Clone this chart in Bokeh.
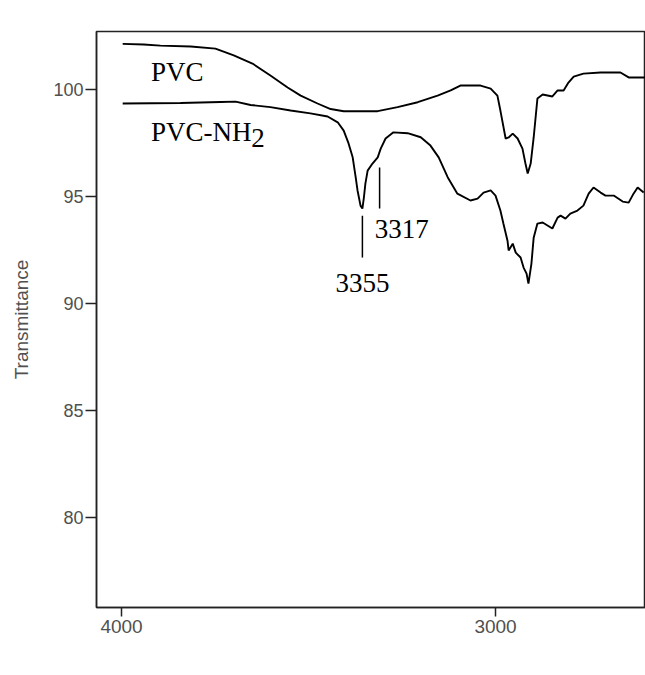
from bokeh.plotting import figure
from bokeh.models import Range1d, FixedTicker, Label
from bokeh.embed import file_html
from bokeh.resources import INLINE

# ---- data ----
pvc_wn = [3997, 3941, 3896, 3815, 3749, 3700, 3650, 3602, 3556, 3521, 3476, 3441,
          3406, 3315, 3262, 3208, 3155, 3120, 3094, 3040, 3013, 2995, 2987, 2973,
          2965, 2954, 2941, 2928, 2920, 2914, 2906, 2898, 2888, 2874, 2848, 2834,
          2818, 2805, 2791, 2765, 2719, 2666, 2644, 2599]
pvc_t = [102.15, 102.12, 102.07, 102.03, 101.93, 101.61, 101.23, 100.67, 100.11, 99.73,
         99.36, 99.10, 99.00, 99.00, 99.19, 99.42, 99.73, 99.97, 100.20, 100.20, 100.06,
         99.73, 99.03, 97.72, 97.77, 97.95, 97.72, 97.25, 96.55, 96.08, 96.55, 97.77,
         99.59, 99.78, 99.69, 99.97, 99.97, 100.34, 100.62, 100.76, 100.81, 100.81,
         100.58, 100.58]

nh2_wn = [3997, 3842, 3735, 3695, 3655, 3602, 3548, 3495, 3449, 3422, 3406, 3393,
          3382, 3374, 3369, 3361, 3356, 3352, 3348, 3342, 3329, 3315, 3307, 3294,
          3273, 3235, 3200, 3174, 3152, 3128, 3102, 3067, 3048, 3032, 3013, 3000,
          2987, 2979, 2968, 2965, 2954, 2946, 2933, 2925, 2917, 2912, 2904, 2898,
          2888, 2874, 2861, 2848, 2834, 2826, 2813, 2800, 2781, 2765, 2751, 2738,
          2719, 2706, 2684, 2660, 2644, 2631, 2620, 2604]
nh2_t = [99.36, 99.38, 99.43, 99.45, 99.29, 99.19, 99.03, 98.90, 98.75, 98.48, 98.09,
         97.49, 96.84, 95.91, 95.29, 94.58, 94.44, 94.96, 95.61, 96.22, 96.55, 96.84,
         97.25, 97.72, 98.01, 97.97, 97.78, 97.39, 96.84, 95.91, 95.14, 94.82, 94.91,
         95.19, 95.29, 95.05, 94.35, 93.74, 92.94, 92.48, 92.80, 92.38, 92.15, 91.68,
         91.40, 90.93, 91.87, 93.08, 93.74, 93.79, 93.65, 93.51, 94.02, 94.11, 93.97,
         94.21, 94.35, 94.58, 95.14, 95.43, 95.19, 95.05, 95.05, 94.77, 94.72, 95.14,
         95.43, 95.19]

x_ticks = [4000, 3000]
y_ticks = [80, 85, 90, 95, 100]
peak_labels = ["3355", "3317"]
peak_wn = [3356, 3310]

# ---- figure ----
p = figure(width=645, height=648, output_backend="svg", toolbar_location=None,
           x_range=Range1d(4067, 2599), y_range=Range1d(75.77, 102.73),
           min_border_left=96, min_border_right=0, min_border_top=31,
           min_border_bottom=41, background_fill_color="white",
           border_fill_color="white")

p.xgrid.visible = False
p.ygrid.visible = False
p.outline_line_color = "#222222"
p.outline_line_width = 1.5

for ax in (p.xaxis[0], p.yaxis[0]):
    ax.axis_line_color = "#222222"
    ax.axis_line_width = 1.5
    ax.major_tick_line_color = "#222222"
    ax.major_tick_line_width = 1.5
    ax.major_tick_in = 0
    ax.minor_tick_line_color = None
    ax.major_label_text_font = "Liberation Sans"
    ax.major_label_text_color = "#505050"

p.xaxis.ticker = FixedTicker(ticks=x_ticks)
p.xaxis.major_tick_out = 9
p.xaxis.major_label_standoff = 3
p.xaxis.major_label_text_font_size = "19px"

p.yaxis.ticker = FixedTicker(ticks=y_ticks)
p.yaxis.major_tick_out = 11
p.yaxis.major_label_standoff = 2
p.yaxis.major_label_text_font_size = "18px"
p.yaxis.axis_label = "Transmittance"
p.yaxis.axis_label_text_font = "Liberation Sans"
p.yaxis.axis_label_text_font_style = "normal"
p.yaxis.axis_label_text_font_size = "19px"
p.yaxis.axis_label_text_color = "#505050"
p.yaxis.axis_label_standoff = 18

p.line(pvc_wn, pvc_t, line_color="black", line_width=1.9)
p.line(nh2_wn, nh2_t, line_color="black", line_width=1.9)

# peak marker lines
p.segment(x0=[peak_wn[0], peak_wn[1]], y0=[92.15, 94.44],
          x1=[peak_wn[0], peak_wn[1]], y1=[94.11, 96.36],
          line_color="black", line_width=1.5)

serif = "Liberation Serif"
def lab(x, y, t, align="left"):
    p.add_layout(Label(x=x, y=y, text=t, text_font=serif, text_font_size="27px",
                       text_color="black", text_align=align,
                       text_baseline="alphabetic"))

lab(3921, 100.85, "PVC")
lab(3921, 98.03, "PVC-NH")
lab(3653, 97.73, "2")
lab(peak_wn[0], 90.97, peak_labels[0], "center")
lab(3323, 93.49, peak_labels[1])

open("out.html", "w").write(file_html(p, INLINE))
